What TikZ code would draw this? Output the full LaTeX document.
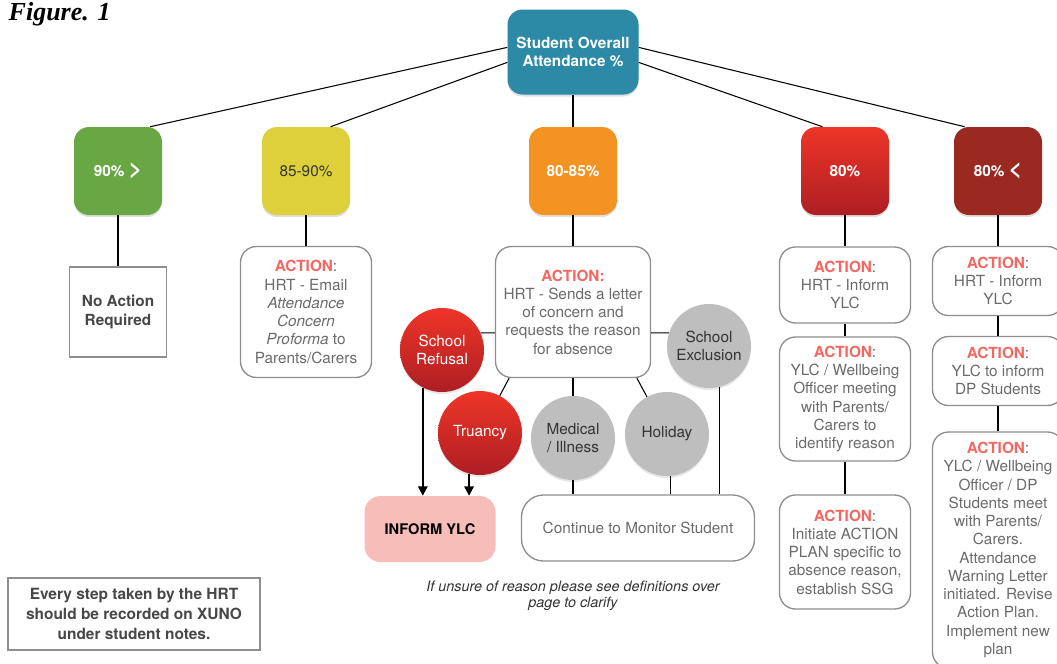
\documentclass[tikz,border=0pt]{standalone}
\usepackage{fontspec}
\setmainfont{TeX Gyre Heros}
\newfontfamily\figfont{Liberation Serif}
\usetikzlibrary{arrows.meta,shadows}

\newlength\pxu
\setlength\pxu{0.75pt}

\definecolor{tealtop}{HTML}{2C8AA7}
\definecolor{grn}{HTML}{69A644}
\definecolor{ylw}{HTML}{DDD03B}
\definecolor{orng}{HTML}{F39322}
\definecolor{redhi}{HTML}{EE3528}
\definecolor{redlo}{HTML}{AE1E23}
\definecolor{maroon}{HTML}{9A2A21}
\definecolor{dotgray}{HTML}{BEBEBE}
\definecolor{pinkbox}{HTML}{F7BDB8}
\definecolor{salmon}{HTML}{F4665F}
\definecolor{txtgray}{HTML}{6B6B6B}
\definecolor{linegray}{HTML}{8E8E8E}
\definecolor{darktxt}{HTML}{333333}

\newcommand\nodefont{\fontsize{11.5}{13.7}\selectfont}
\newcommand\actn{\textcolor{salmon}{\bfseries ACTION}:}

\tikzset{
  band/.style={rounded corners=15\pxu, minimum width=88\pxu, minimum height=88\pxu,
    inner sep=0pt, text=white, font=\nodefont\bfseries,
    drop shadow={opacity=0.25,shadow xshift=0pt,shadow yshift=-1.5pt}},
  actbox/.style={draw=linegray, line width=1pt, rounded corners=16\pxu, fill=white,
    text=txtgray, align=center, inner sep=0pt, minimum width=131\pxu},
  reason/.style={circle, minimum size=84\pxu, inner sep=0pt, align=center,
    drop shadow={opacity=0.2,shadow xshift=0pt,shadow yshift=-1.5pt}},
  redfill/.style={top color=redhi, bottom color=redlo},
  link/.style={line width=0.8pt},
  push/.style={line width=1.5pt, -{Triangle[length=7pt,width=7pt]}}
}

\begin{document}
\begin{tikzpicture}[x=1\pxu, y=-1\pxu, font=\nodefont]
  \useasboundingbox (0,0) rectangle (1057,664);

  \node[anchor=base west, font=\figfont\bfseries\itshape\fontsize{19.5}{20}\selectfont] (fig) at (4,20) {Figure. 1};

  % root
  \node[band, minimum width=131\pxu, minimum height=85\pxu, fill=tealtop, align=center] (top) at (573,52) {Student Overall\\Attendance \%};

  % attendance bands
  \node[band, fill=grn]    (b1) at (118,171) {90\% {\fontsize{17}{17}\selectfont >}};
  \node[band, fill=ylw, text=darktxt, font=\nodefont] (b2) at (306,171) {85-90\%};
  \node[band, fill=orng]   (b3) at (573,171) {80-85\%};
  \node[band, redfill]     (b4) at (845,171) {80\%};
  \node[band, fill=maroon] (b5) at (998,171) {80\% {\fontsize{17}{17}\selectfont <}};

  % first actions
  \node[draw=linegray, line width=1pt, minimum width=97\pxu, minimum height=90\pxu, align=center, text=darktxt!90, font=\nodefont\bfseries] (n1) at (118,312) {No Action\\Required};
  \node[actbox, minimum height=131\pxu] (e2) at (306,312) {\actn\\HRT - Email\\\textit{Attendance}\\\textit{Concern}\\\textit{Proforma} to\\Parents/Carers};
  \node[actbox, minimum width=155\pxu, minimum height=131\pxu] (s3) at (573,312) {\textcolor{salmon}{\bfseries ACTION:}\\HRT - Sends a letter\\of concern and\\requests the reason\\for absence};

  % reasons for absence
  \node[reason, redfill, text=white]        (r1) at (442,350) {School\\Refusal};
  \node[reason, redfill, text=white]        (r2) at (480,433) {Truancy};
  \node[reason, fill=dotgray, text=darktxt] (g1) at (573,438) {Medical\\/ Illness};
  \node[reason, fill=dotgray, text=darktxt] (g2) at (667,434) {Holiday};
  \node[reason, fill=dotgray, text=darktxt] (g3) at (709,346) {School\\Exclusion};

  \node[rounded corners=16\pxu, fill=pinkbox, minimum width=131\pxu, minimum height=66\pxu, font=\fontsize{11}{13}\selectfont\bfseries] (inf) at (430,529) {INFORM YLC};
  \node[actbox, minimum width=233\pxu, minimum height=66\pxu, rounded corners=22\pxu] (mon) at (638,528) {Continue to Monitor Student};

  % 80% column
  \node[actbox, minimum height=76\pxu]  (h4a) at (845,285) {\actn\\HRT - Inform\\YLC};
  \node[actbox, minimum height=124\pxu] (h4b) at (845,399) {\actn\\YLC / Wellbeing\\Officer meeting\\with Parents/\\Carers to\\identify reason};
  \node[actbox, minimum height=114\pxu] (h4c) at (845,552) {\actn\\Initiate ACTION\\PLAN specific to\\absence reason,\\establish SSG};

  % below 80% column
  \node[actbox, minimum height=69\pxu]  (h5a) at (998,281) {\actn\\HRT - Inform\\YLC};
  \node[actbox, minimum height=69\pxu]  (h5b) at (998,371) {\actn\\YLC to inform\\DP Students};
  \node[actbox, minimum height=236\pxu] (h5c) at (998,550) {\actn\\YLC / Wellbeing\\Officer / DP\\Students meet\\with Parents/\\Carers.\\Attendance\\Warning Letter\\initiated. Revise\\Action Plan.\\Implement new\\plan};

  % notes
  \node[font=\fontsize{10.8}{12}\selectfont\itshape, text=darktxt, align=center] (tip) at (573,596) {If unsure of reason please see definitions over\\page to clarify};
  \node[draw=linegray, line width=1pt, minimum width=252\pxu, minimum height=72\pxu, align=center, text=darktxt!90, font=\fontsize{11.6}{15}\selectfont\bfseries] (rec) at (134,614) {Every step taken by the HRT\\should be recorded on XUNO\\under student notes.};

  \draw[link] (top.176) -- (b1.54);
  \draw[link] (top.189) -- (b2.61);
  \draw[link] (top.south) -- (b3.north);
  \draw[link] (top.351) -- (b4.117);
  \draw[link] (top.4) -- (b5.127);

  \draw[link] (b1.south) -- (n1.north);
  \draw[link] (b2.south) -- (e2.north);
  \draw[link] (b3.south) -- (s3.north);
  \draw[link] (b4.south) -- (h4a.north);
  \draw[link] (h4a) -- (h4b);
  \draw[link] (h4b) -- (h4c);
  \draw[link] (b5.south) -- (h5a.north);
  \draw[link] (h5a) -- (h5b);
  \draw[link] (h5b) -- (h5c);

  \draw[link] (s3.195) -- (r1.24);
  \draw[link] (s3.226) -- (r2);
  \draw[link] (s3.south) -- (g1.north);
  \draw[link] (s3.314) -- (g2);
  \draw[link] (s3.345) -- (g3.162);

  \draw[push] (r1.243) -- (r1.243 |- inf.north);
  \draw[push] (r2.255) -- (r2.255 |- inf.north);

  \draw[link] (g1.south) -- (g1.south |- mon.north);
  \draw[link] (g2.275) -- (g2.275 |- mon.north);
  \draw[link] (g3.284) -- (g3.284 |- mon.north);
\end{tikzpicture}
\end{document}
